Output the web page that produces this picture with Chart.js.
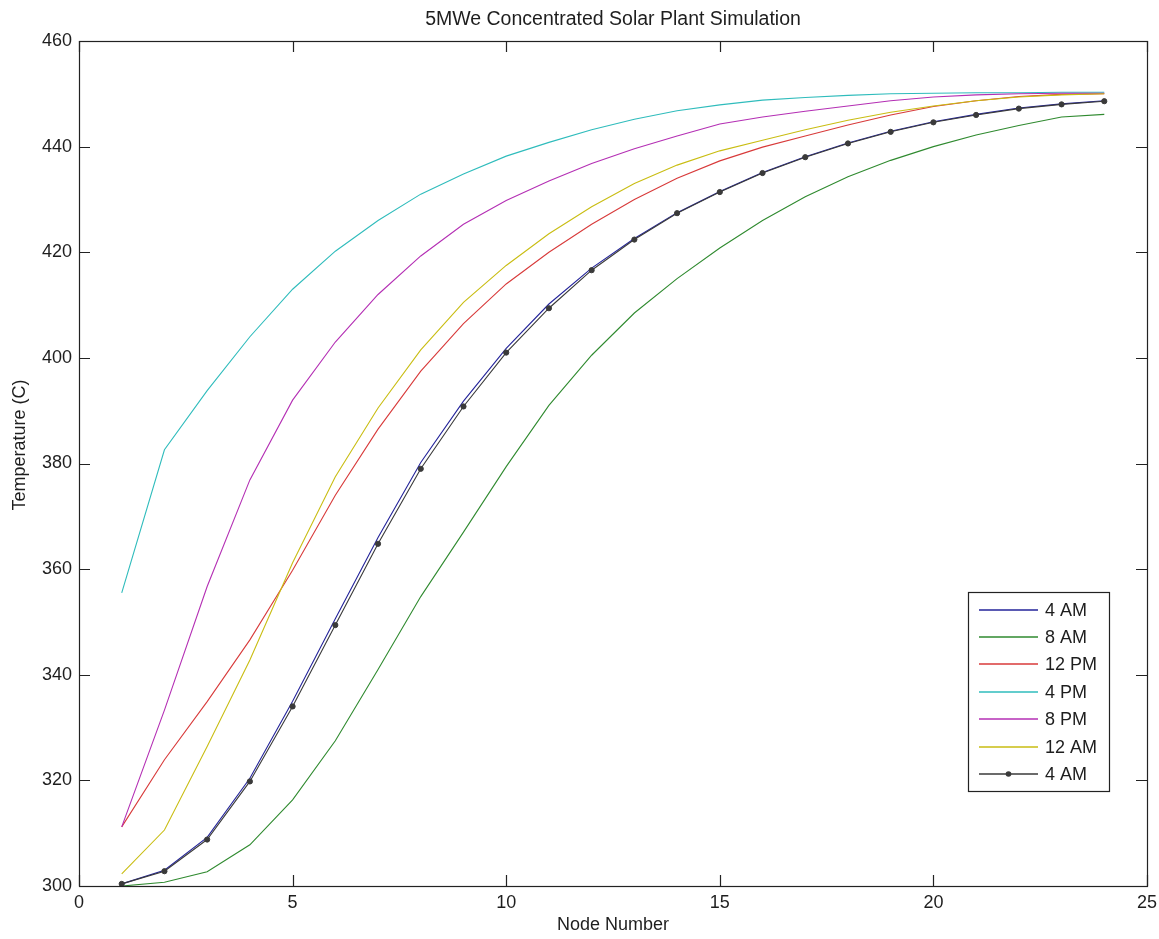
<!DOCTYPE html>
<html>
<head>
<meta charset="utf-8">
<script src="https://cdn.jsdelivr.net/npm/chart.js@4/dist/chart.umd.min.js"></script>
<style>
  html, body { margin: 0; padding: 0; background: #ffffff; }
  #wrap { width: 1159px; height: 939px; }
</style>
</head>
<body>
<div id="wrap"><canvas id="c" width="1159" height="939"></canvas></div>
<script>
const titleText = "5MWe Concentrated Solar Plant Simulation";
const xTitle = "Node Number";
const yTitle = "Temperature (C)";
const nodes = [1,2,3,4,5,6,7,8,9,10,11,12,13,14,15,16,17,18,19,20,21,22,23,24];
const seriesLabels = ["4 AM","8 AM","12 PM","4 PM","8 PM","12 AM","4 AM"];
const am4 = [300.4,303.0,309.2,320.4,335.0,350.6,366.0,380.2,391.8,401.8,410.2,417.0,422.6,427.5,431.5,435.1,438.1,440.7,442.9,444.7,446.1,447.3,448.1,448.7];
const am8 = [300.0,300.7,302.7,307.8,316.3,327.5,341.0,354.8,367.0,379.4,391.0,400.5,408.5,415.0,420.8,426.0,430.5,434.3,437.4,440.0,442.2,444.0,445.6,446.1];
const pm12 = [311.2,323.9,334.9,346.6,359.8,374.0,386.5,397.5,406.5,414.0,420.0,425.3,430.0,434.0,437.3,439.9,442.0,444.1,446.0,447.6,448.7,449.5,449.9,450.0];
const pm4 = [355.5,382.6,393.8,404.0,413.0,420.2,426.0,431.0,434.8,438.2,440.8,443.2,445.2,446.8,447.9,448.8,449.3,449.7,450.0,450.1,450.2,450.2,450.3,450.3];
const pm8 = [311.2,333.3,356.7,376.9,392.0,403.0,412.0,419.3,425.3,429.8,433.5,436.8,439.6,442.0,444.3,445.6,446.7,447.7,448.7,449.4,449.8,450.0,450.1,450.1];
const am12 = [302.3,310.6,326.4,342.8,361.2,377.5,390.5,401.5,410.5,417.5,423.5,428.6,433.0,436.5,439.2,441.2,443.2,445.0,446.5,447.7,448.7,449.4,449.8,450.0];
const am4b = [300.4,302.8,308.8,319.8,334.0,349.4,364.8,379.0,390.8,401.0,409.4,416.6,422.4,427.4,431.4,435.0,438.0,440.6,442.8,444.6,446.0,447.2,448.0,448.6];
const xTicks = [0,5,10,15,20,25];
const yTicks = [300,320,340,360,380,400,420,440,460];

const seriesValues = [am4, am8, pm12, pm4, pm8, am12, am4b];
const seriesColors = ["#23239a","#2f8a2f","#d83a3a","#2fbcbc","#b42fb4","#c9bd12","#3a3a3a"];
const FONT = "'Liberation Sans', Arial, Helvetica, sans-serif";
const TXT = "#1e1e1e";

const datasets = seriesValues.map((vals, i) => ({
  label: seriesLabels[i],
  data: nodes.map((n, k) => ({ x: n, y: vals[k] })),
  borderColor: seriesColors[i],
  backgroundColor: seriesColors[i],
  borderWidth: 1.1,
  tension: 0,
  fill: false,
  pointRadius: i === 6 ? 2.6 : 0,
  pointStyle: 'circle',
  pointBorderWidth: 1,
  pointBackgroundColor: seriesColors[i],
  pointBorderColor: seriesColors[i],
  order: seriesValues.length - 1 - i
}));

const framePlugin = {
  id: 'frame',
  afterDraw(chart) {
    const ctx = chart.ctx;
    const a = chart.chartArea;
    const xs = chart.scales.x, ys = chart.scales.y;
    ctx.save();
    ctx.strokeStyle = "#222";
    ctx.lineWidth = 1.2;
    ctx.strokeRect(Math.round(a.left) + 0.5, Math.round(a.top) + 0.5, Math.round(a.right - a.left), Math.round(a.bottom - a.top));
    const tl = 11;
    ctx.beginPath();
    xTicks.forEach(v => {
      const px = Math.round(xs.getPixelForValue(v)) + 0.5;
      ctx.moveTo(px, a.bottom); ctx.lineTo(px, a.bottom - tl);
      ctx.moveTo(px, a.top); ctx.lineTo(px, a.top + tl);
    });
    yTicks.forEach(v => {
      const py = Math.round(ys.getPixelForValue(v)) + 0.5;
      ctx.moveTo(a.left, py); ctx.lineTo(a.left + tl, py);
      ctx.moveTo(a.right, py); ctx.lineTo(a.right - tl, py);
    });
    ctx.stroke();

    // titles
    ctx.fillStyle = TXT;
    ctx.textAlign = 'center';
    ctx.textBaseline = 'alphabetic';
    ctx.font = "19.5px " + FONT;
    ctx.fillText(titleText, (a.left + a.right) / 2, 25);
    ctx.font = "18px " + FONT;
    ctx.textBaseline = 'middle';
    ctx.fillText(xTitle, (a.left + a.right) / 2, 925);
    ctx.save();
    ctx.translate(20, 445);
    ctx.rotate(-Math.PI / 2);
    ctx.fillText(yTitle, 0, 0);
    ctx.restore();

    // legend
    const bx = 968, by = 592, bw = 141, bh = 199;
    ctx.fillStyle = "#ffffff";
    ctx.fillRect(bx, by, bw, bh);
    ctx.strokeStyle = "#222";
    ctx.lineWidth = 1.2;
    ctx.strokeRect(bx + 0.5, by + 0.5, bw, bh);
    ctx.textAlign = 'left';
    ctx.textBaseline = 'middle';
    ctx.font = "18px " + FONT;
    chart.data.datasets.forEach((ds, i) => {
      const y = Math.round(609.5 + i * 27.45);
      ctx.strokeStyle = ds.borderColor;
      ctx.lineWidth = 1.6;
      ctx.beginPath();
      ctx.moveTo(979, y); ctx.lineTo(1038, y);
      ctx.stroke();
      if (ds.pointRadius > 0) {
        ctx.fillStyle = ds.borderColor;
        ctx.beginPath();
        ctx.arc(1008.5, y, 2.8, 0, Math.PI * 2);
        ctx.fill();
      }
      ctx.fillStyle = TXT;
      ctx.fillText(ds.label, 1045, y + 1);
    });
    ctx.restore();
  }
};

new Chart(document.getElementById('c'), {
  type: 'line',
  data: { datasets },
  options: {
    responsive: false,
    animation: false,
    devicePixelRatio: 1,
    layout: { padding: { top: 41, right: 12, left: 0, bottom: 0 } },
    plugins: { legend: { display: false }, tooltip: { enabled: false }, title: { display: false } },
    scales: {
      x: {
        type: 'linear', min: 0, max: 25,
        afterFit: s => { s.height = 53; s.paddingLeft = 0; s.paddingRight = 0; },
        afterBuildTicks: s => { s.ticks = xTicks.map(v => ({ value: v })); },
        grid: { display: true, drawOnChartArea: false, drawTicks: false },
        border: { display: false },
        ticks: { color: TXT, font: { family: FONT, size: 18 }, padding: 6, maxRotation: 0, autoSkip: false }
      },
      y: {
        type: 'linear', min: 300, max: 460,
        afterFit: s => { s.width = 79; s.paddingTop = 0; s.paddingBottom = 0; },
        afterBuildTicks: s => { s.ticks = yTicks.map(v => ({ value: v })); },
        grid: { display: true, drawOnChartArea: false, drawTicks: false },
        border: { display: false },
        ticks: { color: TXT, font: { family: FONT, size: 18 }, padding: 7, autoSkip: false }
      }
    }
  },
  plugins: [framePlugin]
});
</script>
</body>
</html>
